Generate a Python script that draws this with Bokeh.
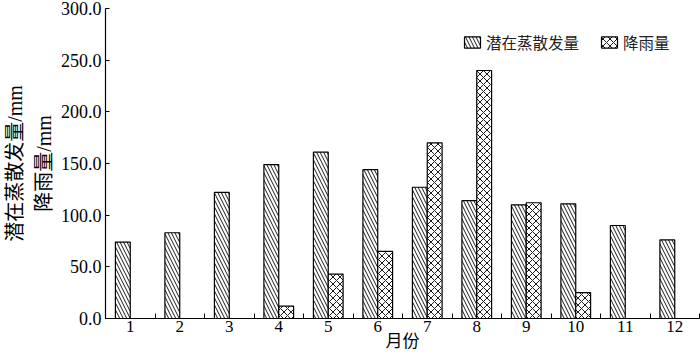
import numpy as np
from bokeh.plotting import figure
from bokeh.models import FixedTicker, NumeralTickFormatter, Range1d, ColumnDataSource, Legend, LegendItem
from bokeh.embed import file_html
from bokeh.resources import INLINE

months = [1, 2, 3, 4, 5, 6, 7, 8, 9, 10, 11, 12]
month_labels = ["1", "2", "3", "4", "5", "6", "7", "8", "9", "10", "11", "12"]
etp = [74, 83, 122, 149, 161, 144, 127, 114, 110, 111, 90, 76]
rain = [0, 0, 0, 12, 43, 65, 170, 240, 112, 25, 0, 0]
series_names = ["潜在蒸散发量", "降雨量"]
y_ticks = [0, 50, 100, 150, 200, 250, 300]
x_title = "月份"
y_title = "潜在蒸散发量/mm\n降雨量/mm"

SERIF = "Liberation Serif, Noto Sans CJK SC"
CJK = "Noto Sans CJK SC"

p = figure(width=700, height=357, output_backend="svg", toolbar_location=None,
           x_range=Range1d(0.5, 12.5), y_range=Range1d(0, 300),
           min_border_left=105, min_border_right=1, min_border_top=8, min_border_bottom=39)
p.outline_line_color = None
p.xgrid.visible = False
p.ygrid.visible = False
p.background_fill_color = "white"

m = np.array(months, dtype=float)
e = np.array(etp, dtype=float)
r = np.array(rain, dtype=float)
mask = r > 0

src_e = ColumnDataSource(dict(x=m - 0.15, top=e))
src_r = ColumnDataSource(dict(x=m[mask] + 0.15, top=r[mask]))

common = dict(width=0.3, bottom=0, fill_color="white", line_color="black", line_width=1.2,
              hatch_color="black", hatch_weight=0.9, hatch_scale=7)
b1 = p.vbar(x="x", top="top", source=src_e, hatch_pattern="\\", **common)
b2 = p.vbar(x="x", top="top", source=src_r, hatch_pattern="x", **common)

legend = Legend(items=[LegendItem(label=series_names[0], renderers=[b1]),
                       LegendItem(label=series_names[1], renderers=[b2])],
                orientation="horizontal", location=(357, 265),
                border_line_color=None, background_fill_alpha=0,
                padding=0, margin=0, spacing=20, label_standoff=4,
                glyph_width=20, glyph_height=14, label_height=14,
                label_text_font=CJK, label_text_font_size="15.5px", label_text_color="#222222")
p.add_layout(legend)

# x axis
p.xaxis.ticker = FixedTicker(ticks=months, minor_ticks=[v + 0.5 for v in [0] + months])
p.xaxis.major_label_overrides = {mm: lab for mm, lab in zip(months, month_labels)}
p.xaxis.major_tick_in = 0
p.xaxis.major_tick_out = 0
p.xaxis.minor_tick_in = 5
p.xaxis.minor_tick_out = 0
p.xaxis.major_label_text_font = SERIF
p.xaxis.major_label_text_font_size = "17px"
p.xaxis.major_label_standoff = 2
p.xaxis.axis_label = x_title
p.xaxis.axis_label_text_font = SERIF
p.xaxis.axis_label_text_font_style = "normal"
p.xaxis.axis_label_text_font_size = "17px"
p.xaxis.axis_label_standoff = -3

# y axis
p.yaxis.ticker = FixedTicker(ticks=y_ticks, minor_ticks=[])
p.yaxis.formatter = NumeralTickFormatter(format="0.0")
p.yaxis.major_tick_in = 4
p.yaxis.major_tick_out = 0
p.yaxis.minor_tick_in = 0
p.yaxis.minor_tick_out = 0
p.yaxis.axis_label = y_title
p.yaxis.axis_label_text_font = SERIF
p.yaxis.axis_label_text_font_style = "normal"
p.yaxis.axis_label_text_font_size = "20px"
p.yaxis.axis_label_text_line_height = 1.3
p.yaxis.axis_label_standoff = 3
p.yaxis.major_label_text_font = SERIF
p.yaxis.major_label_text_font_size = "18px"
p.yaxis.major_label_standoff = 4

for ax in (p.xaxis, p.yaxis):
    ax.axis_line_color = "black"
    ax.axis_line_width = 1.2
    ax.major_tick_line_color = "black"
    ax.minor_tick_line_color = "black"
    ax.major_label_text_color = "black"
    ax.axis_label_text_color = "black"

open("out.html", "w").write(file_html(p, INLINE))
